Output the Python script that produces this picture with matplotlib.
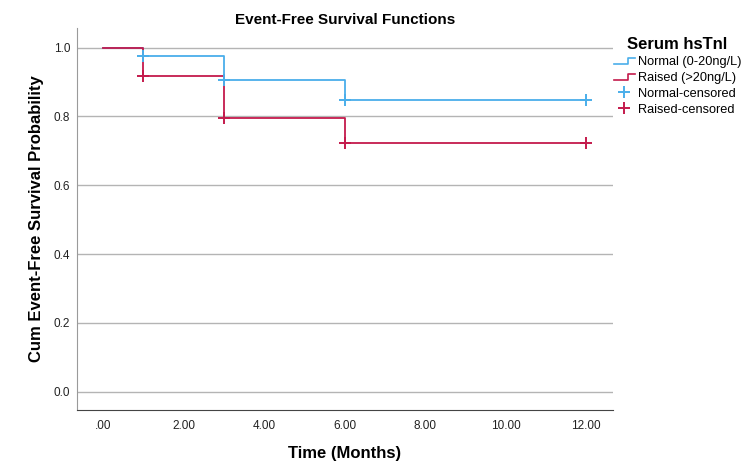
import matplotlib
matplotlib.use('Agg')
import matplotlib.pyplot as plt
from matplotlib.legend_handler import HandlerBase
from matplotlib.lines import Line2D

plt.rcParams['font.family'] = ['Liberation Sans', 'DejaVu Sans']

# step times and survival estimates
normal_t = [0, 1, 3, 6, 12]
normal_s = [1.0, 0.977, 0.906, 0.848, 0.848]
raised_t = [0, 1, 3, 6, 12]
raised_s = [1.0, 0.918, 0.796, 0.723, 0.723]

# censored points
normal_cens_t = [1, 3, 6, 12]
normal_cens_s = [0.977, 0.906, 0.848, 0.848]
raised_cens_t = [1, 3, 6, 12]
raised_cens_s = [0.918, 0.796, 0.723, 0.723]

xticks = [0, 2, 4, 6, 8, 10, 12]
xtick_labels = ['.00', '2.00', '4.00', '6.00', '8.00', '10.00', '12.00']
yticks = [0.0, 0.2, 0.4, 0.6, 0.8, 1.0]

blue = '#4aaeea'
red = '#c41a4c'


class StepHandler(HandlerBase):
    # small step-shaped legend key, like SPSS
    def create_artists(self, legend, orig_handle, xdescent, ydescent,
                       width, height, fontsize, trans):
        x = [0, width * 0.65, width * 0.65, width]
        y = [height * 0.15, height * 0.15, height * 0.75, height * 0.75]
        x = [v - xdescent for v in x]
        y = [v - ydescent for v in y]
        l = Line2D(x, y, color=orig_handle.get_color(), lw=1.2, transform=trans)
        return [l]


fig = plt.figure(figsize=(7.5, 4.65), dpi=100)
ax = fig.add_axes([0.1027, 0.1183, 0.7147, 0.8215])

l1, = ax.step(normal_t, normal_s, where='post', color=blue, lw=1.3, label='Normal (0-20ng/L)')
l2, = ax.step(raised_t, raised_s, where='post', color=red, lw=1.3, label='Raised (>20ng/L)')
l3, = ax.plot(normal_cens_t, normal_cens_s, '+', color=blue, ms=8, mew=1.4, label='Normal-censored')
l4, = ax.plot(raised_cens_t, raised_cens_s, '+', color=red, ms=8, mew=1.4, label='Raised-censored')

ax.set_xlim(-0.646, 12.67)
ax.set_ylim(-0.053, 1.057)
ax.set_xticks(xticks)
ax.set_xticklabels(xtick_labels, fontsize=8.5)
ax.set_yticks(yticks)
ax.set_yticklabels([f'{v:.1f}' for v in yticks], fontsize=8.5)
ax.tick_params(axis='x', length=0, pad=7, colors='#222222')
ax.tick_params(axis='y', length=0, pad=5, colors='#222222')

for v in yticks:
    ax.axhline(v, color='#b4b4b4', lw=1, zorder=0)

for s in ['top', 'right']:
    ax.spines[s].set_visible(False)
ax.spines['left'].set_color('#9a9a9a')
ax.spines['bottom'].set_color('#444444')

fig.text(0.46, 0.958, 'Event-Free Survival Functions', fontsize=11,
         fontweight='bold', ha='center', va='center')
ax.set_xlabel('Time (Months)', fontsize=12, fontweight='bold', labelpad=10)
ax.set_ylabel('Cum Event-Free Survival Probability', fontsize=12, fontweight='bold', labelpad=7)

leg = fig.legend([l1, l2, l3, l4],
                 ['Normal (0-20ng/L)', 'Raised (>20ng/L)', 'Normal-censored', 'Raised-censored'],
                 handler_map={l1: StepHandler(), l2: StepHandler()},
                 loc='upper left', bbox_to_anchor=(0.818, 0.92), frameon=False,
                 title='Serum hsTnl', fontsize=9.2, handlelength=1.7,
                 handletextpad=0.2, labelspacing=0.3, borderpad=0, borderaxespad=0)
leg.get_title().set_fontweight('bold')
leg.get_title().set_fontsize(12)

fig.savefig('out.png', dpi=100)
